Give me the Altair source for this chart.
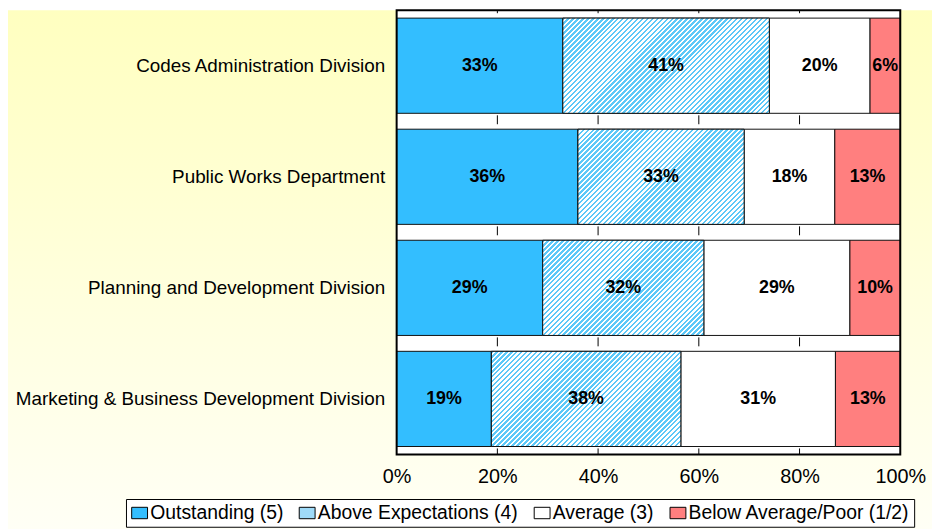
import altair as alt
import pandas as pd

divisions = [
    "Codes Administration Division",
    "Public Works Department",
    "Planning and Development Division",
    "Marketing & Business Development Division",
]
ratings = ["Outstanding (5)", "Above Expectations (4)", "Average (3)", "Below Average/Poor (1/2)"]
outstanding = [33, 36, 29, 19]
above = [41, 33, 32, 38]
average = [20, 18, 29, 31]
below = [6, 13, 10, 13]
grid_values = [0.2, 0.4, 0.6, 0.8]
tick_values = [0, 0.2, 0.4, 0.6, 0.8, 1.0]

series = [outstanding, above, average, below]
rows = []
for i, d in enumerate(divisions):
    for j, r in enumerate(ratings):
        rows.append({"division": d, "rating": r, "order": j, "value": series[j][i]})
df = pd.DataFrame(rows)

W, H = 508, 448
PAD_IN, PAD_OUT = 0.143, 0.071
FONT = "Liberation Sans"
colors = ["#33BEFF", "#9FDBF9", "#FFFFFF", "#FF7F7F"]
STRIPE = "#5CC8F8"


def hatch_for(bar_w, bar_h, period=5.0):
    """45-degree hatch as a sharp-stop gradient, sized to one bar."""
    span = bar_w + bar_h
    k = span / (bar_w ** 2 + bar_h ** 2)
    n = int(span / period) + 1
    stops = []
    for m in range(n):
        p0 = min(1.0, m * period / span)
        pm = min(1.0, (m + 0.5) * period / span)
        p1 = min(1.0, (m + 1) * period / span)
        stops += [
            alt.GradientStop(offset=p0, color=STRIPE),
            alt.GradientStop(offset=pm, color=STRIPE),
            alt.GradientStop(offset=pm, color="#FFFFFF"),
            alt.GradientStop(offset=p1, color="#FFFFFF"),
        ]
    return alt.LinearGradient(gradient="linear", stops=stops, x1=0, y1=0,
                              x2=k * bar_w, y2=k * bar_h)


bg_grad = alt.LinearGradient(
    gradient="linear",
    stops=[alt.GradientStop(offset=0, color="#FFFFC0"), alt.GradientStop(offset=1, color="#FFFFF6")],
    x1=0, y1=0, x2=0, y2=1,
)

xscale = alt.Scale(domain=[0, 1], nice=False, zero=False)
xaxis = alt.Axis(
    values=tick_values, format=".0%", title=None, grid=False, ticks=False, domain=False,
    labelFontSize=20, labelColor="black", labelPadding=12, labelFont=FONT, labelFlush=False,
    zindex=1,
)
Y = alt.Y(
    "division:N", sort=divisions, title=None,
    scale=alt.Scale(paddingInner=PAD_IN, paddingOuter=PAD_OUT),
    axis=alt.Axis(domain=False, ticks=False, labelPadding=12, labelFontSize=19, labelColor="black",
                  labelLimit=500, labelFont=FONT, zindex=1),
)

base = (
    alt.Chart(df)
    .transform_joinaggregate(total="sum(value)", groupby=["division"])
    .transform_calculate(pct="datum.value / datum.total")
    .transform_stack(stack="pct", groupby=["division"], as_=["x0", "x1"], sort=[alt.SortField("order")])
    .transform_calculate(xm="(datum.x0 + datum.x1) / 2", label="datum.value + '%'")
)

one = alt.Data(values=[{}])
bg = alt.Chart(one).mark_rect(fill=bg_grad).encode(
    x=alt.value(-392), x2=alt.value(W + 40), y=alt.value(0), y2=alt.value(H + 80)
)
plotbg = alt.Chart(one).mark_rect(fill="white").encode(
    x=alt.value(0), x2=alt.value(W), y=alt.value(0), y2=alt.value(H)
)
grid = alt.Chart(pd.DataFrame({"t": grid_values})).mark_rule(
    color="black", strokeWidth=1, strokeDash=[9, 103], strokeDashOffset=6
).encode(x=alt.X("t:Q", scale=xscale, axis=xaxis), y=alt.value(0), y2=alt.value(H))

bars = base.mark_bar(stroke="#111111", strokeWidth=1).encode(
    x=alt.X("x0:Q", scale=xscale, axis=xaxis),
    x2="x1:Q",
    y=Y,
    color=alt.Color(
        "rating:N",
        scale=alt.Scale(domain=ratings, range=colors),
        legend=alt.Legend(
            title=None, orient="none", legendX=-273, legendY=493, direction="horizontal",
            symbolType="M-1,-0.72H1V0.72H-1Z", symbolSize=256, symbolStrokeColor="black",
            symbolStrokeWidth=1, symbolOpacity=1, labelFontSize=19.5, labelColor="black",
            labelFont=FONT, labelLimit=400, strokeColor="black", fillColor="white",
            padding=4, columnPadding=13, labelOffset=1, zindex=1,
        ),
    ),
)

step = H / (len(divisions) - PAD_IN + 2 * PAD_OUT)
bar_h = step * (1 - PAD_IN)
hatch_layers = []
for i, d in enumerate(divisions):
    tot = outstanding[i] + above[i] + average[i] + below[i]
    bw = above[i] / tot * W
    hatch_layers.append(
        base.transform_filter((alt.datum.rating == ratings[1]) & (alt.datum.division == d))
        .mark_bar(fill=hatch_for(bw, bar_h), stroke="#111111", strokeWidth=1)
        .encode(x=alt.X("x0:Q", scale=xscale, axis=xaxis), x2="x1:Q", y=Y)
    )

labels = base.mark_text(fontWeight="bold", fontSize=18, font=FONT, color="black").encode(
    x=alt.X("xm:Q", scale=xscale, axis=xaxis), y=Y, text="label:N"
)
border = alt.Chart(one).mark_rect(fillOpacity=0, stroke="black", strokeWidth=2).encode(
    x=alt.value(0), x2=alt.value(W), y=alt.value(0), y2=alt.value(H)
)

chart = (
    alt.layer(bg, plotbg, grid, bars, *hatch_layers, labels, border)
    .properties(width=W, height=H, autosize="none",
                padding={"left": 392, "top": 0, "right": 32, "bottom": 73})
    .configure_view(stroke=None)
    .configure(font=FONT)
)
chart.save("out.html", embed_options={"renderer": "svg", "actions": False})
